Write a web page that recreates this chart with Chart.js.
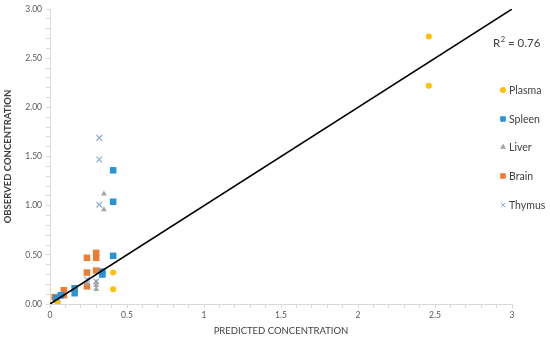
<!DOCTYPE html>
<html>
<head>
<meta charset="utf-8">
<script src="https://cdn.jsdelivr.net/npm/chart.js@4.4.1/dist/chart.umd.min.js"></script>
<style>
html,body{margin:0;padding:0;background:#fff;}
#wrap{width:550px;height:339px;position:relative;}
</style>
</head>
<body>
<div id="wrap"><canvas id="c" width="550" height="339"></canvas></div>
<script>
const seriesNames = ['Plasma', 'Spleen', 'Liver', 'Brain', 'Thymus'];
const plasmaX = [2.46, 2.46, 0.41, 0.41, 0.05];
const plasmaY = [2.72, 2.22, 0.32, 0.15, 0.01];
const spleenX = [0.41, 0.41, 0.41, 0.34, 0.34, 0.16, 0.16, 0.07, 0.04];
const spleenY = [1.36, 1.04, 0.49, 0.33, 0.30, 0.16, 0.11, 0.09, 0.06];
const liverX = [0.35, 0.35, 0.30, 0.30, 0.30, 0.24, 0.07, 0.03];
const liverY = [1.12, 0.96, 0.22, 0.19, 0.15, 0.21, 0.07, 0.03];
const brainX = [0.30, 0.30, 0.24, 0.24, 0.30, 0.24, 0.09, 0.09, 0.03];
const brainY = [0.52, 0.47, 0.47, 0.32, 0.34, 0.18, 0.14, 0.09, 0.07];
const thymusX = [0.32, 0.32, 0.32, 0.24, 0.30, 0.05];
const thymusY = [1.69, 1.47, 1.01, 0.25, 0.23, 0.05];
const trendX = [0, 3];
const trendY = [0, 3];
const r2Label = '0.76';
const xTitle = 'PREDICTED CONCENTRATION';
const yTitle = 'OBSERVED CONCENTRATION';

const pts = (xs, ys) => xs.map((x, i) => ({x: x, y: ys[i]}));
const FONT = 'Lato, "Open Sans", sans-serif';

const styles = [
  {pointStyle: 'circle', pointRadius: 3, backgroundColor: '#FFC000', borderColor: '#FFC000', borderWidth: 0},
  {pointStyle: 'rect', pointRadius: 4.6, backgroundColor: '#2A93D5', borderColor: '#2A93D5', borderWidth: 0},
  {pointStyle: 'triangle', pointRadius: 3.4, backgroundColor: '#A5A5A5', borderColor: '#A5A5A5', borderWidth: 0},
  {pointStyle: 'rect', pointRadius: 4.6, backgroundColor: '#ED7D31', borderColor: '#ED7D31', borderWidth: 0},
  {pointStyle: 'crossRot', pointRadius: 4, backgroundColor: '#8EA9DB', borderColor: '#8EA9DB', borderWidth: 1.2}
];
const seriesData = [pts(plasmaX, plasmaY), pts(spleenX, spleenY), pts(liverX, liverY), pts(brainX, brainY), pts(thymusX, thymusY)];

const datasets = seriesNames.map((n, i) => Object.assign({
  label: n, data: seriesData[i], order: 1, showLine: false, pointHoverRadius: styles[i].pointRadius
}, styles[i]));
datasets.push({
  label: 'trend', type: 'line', data: pts(trendX, trendY), order: 0,
  borderColor: '#000', borderWidth: 1.6, pointRadius: 0, fill: false, showLine: true
});

const overlay = {
  id: 'overlay',
  afterDraw(chart) {
    const ctx = chart.ctx;
    ctx.save();
    // R² label
    ctx.fillStyle = '#404040';
    ctx.textBaseline = 'alphabetic';
    ctx.textAlign = 'left';
    ctx.font = '11.5px ' + FONT;
    let x = 493, y = 47;
    ctx.fillText('R', x, y);
    x += ctx.measureText('R').width;
    ctx.font = '7.5px ' + FONT;
    ctx.fillText('2', x + 0.5, y - 5);
    x += ctx.measureText('2').width + 0.5;
    ctx.font = '11.5px ' + FONT;
    ctx.fillText(' = ' + r2Label, x, y);
    // Legend
    const ys = [90, 119, 147, 176, 205];
    seriesNames.forEach((n, i) => {
      const s = styles[i];
      const r = s.pointStyle === 'rect' ? 3.2 : (s.pointStyle === 'crossRot' ? 3.2 : 2.6);
      ctx.fillStyle = s.backgroundColor;
      ctx.strokeStyle = s.borderColor;
      ctx.lineWidth = s.pointStyle === 'crossRot' ? 1 : 0;
      Chart.helpers.drawPoint(ctx, {pointStyle: s.pointStyle, radius: r, rotation: 0, borderWidth: ctx.lineWidth}, 503, ys[i]);
      ctx.fillStyle = '#404040';
      ctx.font = '10.5px ' + FONT;
      ctx.textBaseline = 'middle';
      ctx.textAlign = 'left';
      ctx.fillText(n, 509, ys[i] + 0.5);
    });
    ctx.restore();
  }
};

new Chart(document.getElementById('c'), {
  type: 'scatter',
  data: {datasets: datasets},
  options: {
    responsive: false,
    animation: false,
    devicePixelRatio: 1,
    layout: {padding: {top: 8, right: 38, left: 0, bottom: 0}},
    plugins: {legend: {display: false}, tooltip: {enabled: false}},
    scales: {
      x: {
        type: 'linear', min: 0, max: 3,
        afterFit(s) { s.height = 35; },
        ticks: {
          stepSize: 0.1, autoSkip: false, maxRotation: 0, padding: 2,
          color: '#595959', font: {family: FONT, size: 8.5},
          callback: v => (Math.round(v * 10) % 5 === 0 ? String(Math.round(v * 10) / 10) : '')
        },
        grid: {drawOnChartArea: false, drawTicks: true, tickLength: 4, color: '#D9D9D9'},
        border: {color: '#D9D9D9'},
        title: {display: true, text: xTitle, color: '#404040', font: {family: FONT, size: 9.5}, padding: {top: 0, bottom: 2}}
      },
      y: {
        type: 'linear', min: 0, max: 3,
        afterFit(s) { s.width = 50; },
        ticks: {
          stepSize: 0.1, autoSkip: false, padding: 4,
          color: '#595959', font: {family: FONT, size: 8.5},
          callback: v => (Math.round(v * 10) % 5 === 0 ? (Math.round(v * 10) / 10).toFixed(2) : '')
        },
        grid: {drawOnChartArea: false, drawTicks: true, tickLength: 4, color: '#D9D9D9'},
        border: {color: '#D9D9D9'},
        title: {display: true, text: yTitle, color: '#404040', font: {family: FONT, size: 9.5, weight: 'bold'}, padding: {top: 2, bottom: 0}}
      }
    }
  },
  plugins: [overlay]
});
</script>
</body>
</html>
